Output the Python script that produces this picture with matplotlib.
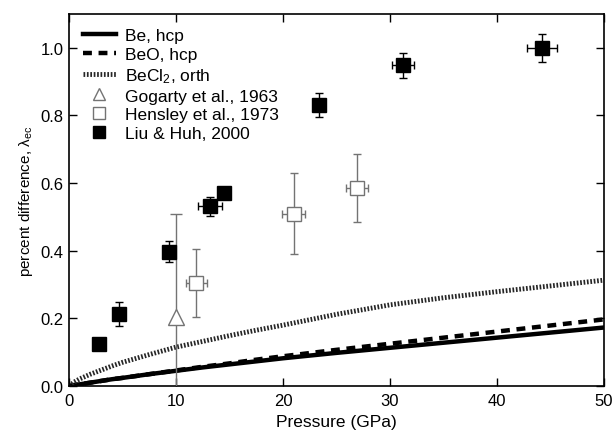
import numpy as np
import matplotlib.pyplot as plt

plt.rcParams['font.family'] = ['Liberation Sans', 'DejaVu Sans']
plt.rcParams['mathtext.fontset'] = 'custom'
plt.rcParams['mathtext.rm'] = 'Liberation Sans'
plt.rcParams['mathtext.it'] = 'Liberation Sans'

# model curves
p_curve = [0, 0.5, 1, 2, 3, 4, 5, 7.5, 10, 12.5, 15, 17.5, 20, 25, 30, 35, 40, 45, 50]
be_hcp = [0, 0.003, 0.005, 0.010, 0.015, 0.020, 0.024, 0.035, 0.045, 0.055, 0.064, 0.073, 0.082, 0.098, 0.113, 0.128, 0.143, 0.158, 0.173]
beo_hcp = [0, 0.003, 0.005, 0.010, 0.015, 0.020, 0.024, 0.035, 0.046, 0.057, 0.067, 0.078, 0.088, 0.107, 0.125, 0.143, 0.161, 0.179, 0.197]
becl2_orth = [0, 0.012, 0.021, 0.035, 0.047, 0.059, 0.070, 0.093, 0.115, 0.132, 0.149, 0.165, 0.180, 0.212, 0.240, 0.261, 0.279, 0.296, 0.313]

# Gogarty et al., 1963
gog_p = [10.0]
gog_v = [0.205]
gog_err = [0.305]

# Hensley et al., 1973
hen_p = [11.9, 21.0, 26.9]
hen_v = [0.305, 0.509, 0.586]
hen_perr = [1.0, 1.05, 1.0]
hen_err = [0.1, 0.12, 0.1]

# Liu & Huh, 2000
liu_p = [2.8, 4.7, 9.3, 13.2, 14.5, 23.4, 31.2, 44.2]
liu_v = [0.125, 0.213, 0.397, 0.532, 0.572, 0.831, 0.948, 1.0]
liu_perr = [0, 0, 0, 1.1, 0, 0.5, 1.0, 1.4]
liu_err = [0, 0.035, 0.031, 0.028, 0, 0.036, 0.037, 0.042]

fig = plt.figure(figsize=(6.16, 4.35), dpi=100)
ax = fig.add_axes([0.112, 0.1103, 0.8685, 0.8552])

ax.plot(p_curve, be_hcp, color='k', lw=3.2, ls='-', label='Be, hcp', zorder=2)
ax.plot(p_curve, beo_hcp, color='k', lw=3.2, ls=(0, (2, 1.5)), label='BeO, hcp', zorder=2)
ax.plot(p_curve, becl2_orth, color='0.15', lw=3.5, ls=(0, (0.35, 0.35)), label='BeCl$_2$, orth', zorder=2)

ax.errorbar(gog_p, gog_v, yerr=gog_err, fmt='^', ms=11, mfc='white', mec='0.45',
            mew=1, ecolor='0.45', elinewidth=1, capsize=4, label='Gogarty et al., 1963', zorder=3)
ax.errorbar(hen_p, hen_v, xerr=hen_perr, yerr=hen_err, fmt='s', ms=10, mfc='white', mec='0.45',
            mew=1, ecolor='0.45', elinewidth=1, capsize=3, label='Hensley et al., 1973', zorder=3)
ax.errorbar(liu_p, liu_v, xerr=liu_perr, yerr=liu_err, fmt='s', ms=10, mfc='k', mec='k',
            ecolor='k', elinewidth=1, capsize=3, label='Liu & Huh, 2000', zorder=4)

ax.set_xlim(0, 50)
ax.set_ylim(0, 1.1)
ax.set_xticks([0, 10, 20, 30, 40, 50])
ax.set_yticks([0.0, 0.2, 0.4, 0.6, 0.8, 1.0])
ax.set_yticklabels(['0.0', '0.2', '0.4', '0.6', '0.8', '1.0'])
ax.tick_params(direction='in', length=6, width=1, top=True, right=True, labelsize=12)
ax.tick_params(axis='y', pad=4)
ax.tick_params(axis='x', pad=5)
for s in ax.spines.values():
    s.set_linewidth(1.2)

ax.set_xlabel('Pressure (GPa)', fontsize=12.5, labelpad=4)
ax.set_ylabel(r'percent difference, $\lambda_{ec}$', fontsize=11, labelpad=4)

h, l = ax.get_legend_handles_labels()
leg_handles = []
for hh in h:
    leg_handles.append(hh[0] if hasattr(hh, 'lines') else hh)
ax.legend(leg_handles, l, loc='upper left', frameon=False, fontsize=12.5, handlelength=1.9,
          labelspacing=0.22, borderaxespad=0.5, borderpad=0.3, handletextpad=0.55, markerscale=0.85)

fig.savefig('out.png', dpi=100)
